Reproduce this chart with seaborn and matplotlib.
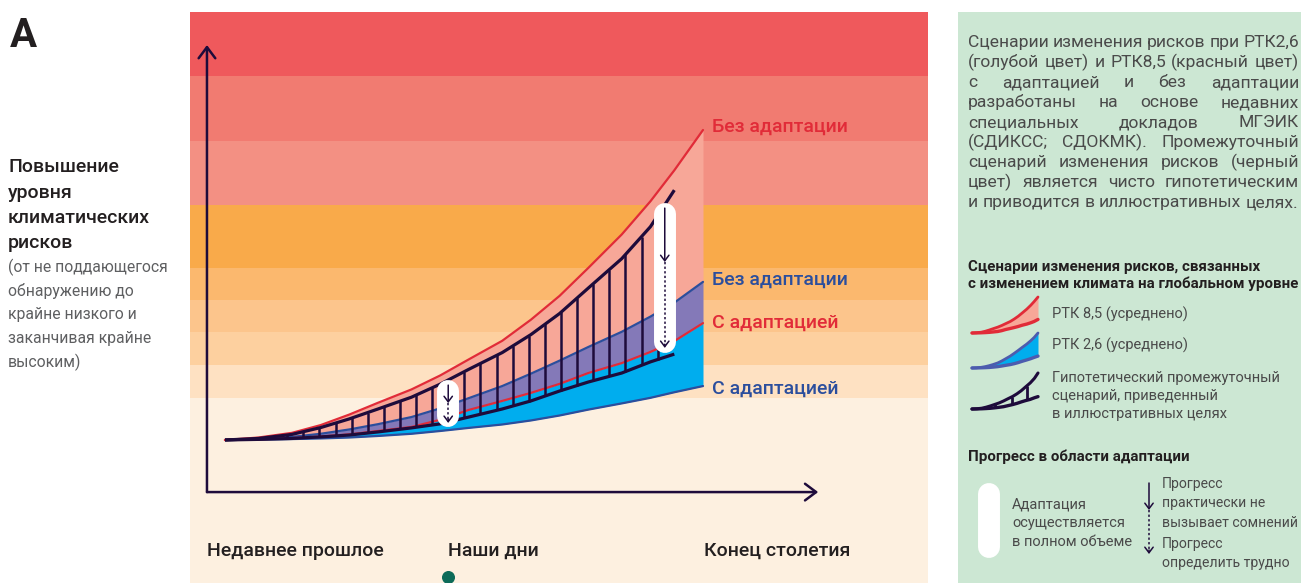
import numpy as np
import pandas as pd
import seaborn as sns
import matplotlib.pyplot as plt
from matplotlib.patches import Rectangle

W, H = 1301, 583

# time: 0 = recent past, 100 = end of century; risk in arbitrary units
t = [0, 7, 14, 20, 26, 32, 39, 45, 51, 58, 64, 70, 76, 83, 89, 94, 100]
rcp85_no_adapt = [0, 0.8, 2.3, 4.8, 8.2, 12.0, 16.3, 20.8, 26.0, 32.0, 38.8, 46.5, 55.5, 66.3, 77.0, 87.0, 100]
rcp85_adapt = [0, 0.2, 0.6, 1.1, 1.8, 2.9, 4.2, 6.5, 9.7, 12.6, 15.2, 18.1, 21.6, 24.8, 28.4, 31.9, 37.7]
rcp26_no_adapt = [0, 0.3, 1.0, 2.0, 3.4, 5.1, 7.4, 10.2, 13.5, 17.4, 21.4, 25.6, 30.0, 34.9, 39.8, 44.3, 51.0]
rcp26_adapt = [0, 0.1, 0.3, 0.5, 0.8, 1.3, 2.0, 2.9, 3.9, 5.0, 6.3, 7.9, 9.8, 11.8, 13.6, 15.4, 17.4]

# hypothetical intermediate scenario (stops a bit before the end)
t_hyp = t[:16]
hyp_upper = [0, 0.5, 1.8, 4.0, 6.8, 10.0, 13.8, 18.0, 22.8, 28.2, 34.0, 40.8, 49.0, 58.5, 68.8, 80.6]
hyp_lower = [0, 0.2, 0.5, 1.0, 1.6, 2.6, 3.9, 5.2, 7.4, 10.0, 12.6, 15.8, 18.7, 21.6, 25.2, 27.7]
hatch_t = np.arange(2.9, 91.0, 3.37)

# risk level bands (undetectable -> very high)
band_edges = [-46.1, 13.5, 24.2, 34.8, 45.2, 55.5, 75.8, 96.5, 117.4, 138.1]
band_colors = ["#FDF0E0", "#FEE1C2", "#FDD09F", "#FCC58C", "#FBB86E",
               "#F9AA4A", "#F39083", "#F17B71", "#EF595C"]

# adaptation progress markers
today_t = 46.7
adapt_t = [46.7, 92.0]
pill_top = [19.4, 76.5]
pill_bot = [4.2, 28.1]
arrow_top = [17.7, 74.8]
arrow_mid = [11.9, 57.4]
arrow_bot = [5.5, 29.7]

end_labels = ["Без адаптации", "Без адаптации", "С адаптацией", "С адаптацией"]
end_label_shift = [1.0, 0.6, 0.0, -1.0]
time_labels = ["Недавнее прошлое", "Наши дни", "Конец столетия"]
time_label_t = [-3.8, today_t, 100.2]

RED, BLUE, DARK = "#E12B38", "#2B4E9D", "#1E0B3B"
SALMON, PURPLE, CYAN = "#F7A798", "#8479B8", "#00ADEE"

sns.set_style("white")
plt.rcParams["font.family"] = ["Roboto", "DejaVu Sans"]

fig = plt.figure(figsize=(W / 100, H / 100), dpi=100)

# main chart axes, placed over the coloured panel
ax = fig.add_axes([190 / W, 0, 738 / W, 571 / H])
ax.set_xlim(-7.32, 147.07)
ax.set_ylim(-46.13, 138.06)
ax.axis("off")
px_per_r = 571 / (138.06 + 46.13)

for lo, hi, c in zip(band_edges[:-1], band_edges[1:], band_colors):
    ax.axhspan(lo, hi, color=c, lw=0, zorder=0)

ax.fill_between(t, rcp26_no_adapt, rcp85_no_adapt, color=SALMON, lw=0, zorder=2)
ax.fill_between(t, rcp85_adapt, rcp26_no_adapt, color=PURPLE, lw=0, zorder=2)
ax.fill_between(t, rcp26_adapt, rcp85_adapt, color=CYAN, lw=0, zorder=2)

for vals, col in [(rcp26_adapt, BLUE), (rcp26_no_adapt, BLUE),
                  (rcp85_adapt, RED), (rcp85_no_adapt, RED)]:
    sns.lineplot(x=t, y=vals, ax=ax, color=col, lw=1.6, sort=False, zorder=3)

ax.vlines(hatch_t, np.interp(hatch_t, t_hyp, hyp_lower), np.interp(hatch_t, t_hyp, hyp_upper),
          color=DARK, lw=1.8, zorder=4)
for vals in [hyp_upper, hyp_lower]:
    sns.lineplot(x=t_hyp, y=vals, ax=ax, color=DARK, lw=2.3, sort=False, zorder=5,
                 solid_capstyle="butt")

# axes arrows
ax.annotate("", xy=(-3.77, 127.4), xytext=(-3.77, -16.8),
            arrowprops=dict(arrowstyle="->,head_length=0.8,head_width=0.6", lw=1.8,
                            color=DARK, shrinkA=0, shrinkB=0))
ax.annotate("", xy=(124.1, -16.8), xytext=(-3.77, -16.8),
            arrowprops=dict(arrowstyle="->,head_length=0.8,head_width=0.6", lw=1.8,
                            color=DARK, shrinkA=0, shrinkB=0))

# adaptation pills with arrows
cap = 11 / px_per_r
head = dict(arrowstyle="->,head_length=0.4,head_width=0.3", lw=1.1, color=DARK,
            shrinkA=0, shrinkB=0)
for x, pt, pb, at, am, ab in zip(adapt_t, pill_top, pill_bot, arrow_top, arrow_mid, arrow_bot):
    ax.plot([x, x], [pb + cap, pt - cap], color="white", lw=15.8,
            solid_capstyle="round", zorder=6)
    ax.annotate("", xy=(x, am), xytext=(x, at), arrowprops=head, zorder=7)
    ax.plot([x, x], [am, ab + 1], color=DARK, lw=1.1, ls=(0, (1.5, 1.5)), zorder=7)
    ax.annotate("", xy=(x, ab), xytext=(x, ab + 1.2), arrowprops=head, zorder=7)

# curve end labels
for lab, vals, dy, col in zip(end_labels, [rcp85_no_adapt, rcp26_no_adapt, rcp85_adapt, rcp26_adapt],
                              end_label_shift, [RED, BLUE, RED, BLUE]):
    ax.text(101.9, vals[-1] + dy, lab, color=col, fontsize=14, fontweight="medium",
            va="center", ha="left")

for lab, x in zip(time_labels, time_label_t):
    ax.text(x, -35.8, lab, color="#231F20", fontsize=14, fontweight="medium",
            va="center", ha="left")
ax.scatter([today_t], [-44.2], s=70, color="#0D6B59", zorder=5, clip_on=False)

# overlay in pixel units for the surrounding text
ov = fig.add_axes([0, 0, 1, 1], zorder=1)
ov.set_xlim(0, W)
ov.set_ylim(H, 0)
ov.axis("off")
ov.add_patch(Rectangle((958, 12), W - 958, H - 12, color="#CCE7D3", lw=0, zorder=0))

ov.text(10, 47, "A", fontsize=29, fontweight="bold", color="#231F20")
for i, s in enumerate(["Повышение", "уровня", "климатических", "рисков"]):
    ov.text(8, 172 + 25.5 * i, s, fontsize=14, fontweight="medium", color="#231F20")
for i, s in enumerate(["(от не поддающегося", "обнаружению до", "крайне низкого и",
                       "заканчивая крайне", "высоким)"]):
    ov.text(8, 272 + 23.7 * i, s, fontsize=11.3, color="#5E5F61")

renderer = fig.canvas.get_renderer()
para = ["Сценарии изменения рисков при РТК2,6",
        "(голубой цвет) и РТК8,5 (красный цвет)",
        "с адаптацией и без адаптации",
        "разработаны на основе недавних",
        "специальных докладов МГЭИК",
        "(СДИКСС; СДОКМК). Промежуточный",
        "сценарий изменения рисков (черный",
        "цвет) является чисто гипотетическим",
        "и приводится в иллюстративных целях."]
para_kw = dict(fontsize=12.6, color="#4A4A4A")
probe = [ov.text(0, 0, s, **para_kw) for s in ["a a", "aa"]]
space = probe[0].get_window_extent(renderer).width - probe[1].get_window_extent(renderer).width
for tx in probe:
    tx.remove()
for i, line in enumerate(para):
    y = 47.3 + 20 * i
    words = line.split()
    texts = [ov.text(968, y, w, **para_kw) for w in words]
    widths = [tx.get_window_extent(renderer).width for tx in texts]
    if i == len(para) - 1:
        gap = space
    else:
        gap = max(0.5 * space, (1299 - 968 - sum(widths)) / (len(words) - 1))
    x = 968
    for tx, w in zip(texts, widths):
        tx.set_x(x)
        x += w + gap

title_kw = dict(fontsize=10.9, fontweight="bold", color="#231F20")
ov.text(968, 270.7, "Сценарии изменения рисков, связанных", **title_kw)
ov.text(968, 288.3, "с изменением климата на глобальном уровне", **title_kw)
ov.text(968, 460.7, "Прогресс в области адаптации", **title_kw)

leg_kw = dict(fontsize=10.5, color="#4A4A4A")
ov.text(1051.7, 318.3, "РТК 8,5 (усреднено)", **leg_kw)
ov.text(1051.7, 350, "РТК 2,6 (усреднено)", **leg_kw)
for i, s in enumerate(["Гипотетический промежуточный", "сценарий, приведенный",
                       "в иллюстративных целях"]):
    ov.text(1051.7, 381.7 + 18.3 * i, s, **leg_kw)
for i, s in enumerate(["Адаптация", "осуществляется", "в полном объеме"]):
    ov.text(1012.3, 508.3 + 18.9 * i, s, **leg_kw)
for s, y in zip(["Прогресс", "практически не", "вызывает сомнений", "Прогресс",
                 "определить трудно"], [488.3, 506.7, 526.7, 548.3, 566.7]):
    ov.text(1162, y, s, fontsize=10.1, color="#4A4A4A")

ov.plot([989, 989], [494, 547], color="white", lw=15.8, solid_capstyle="round")
ov.annotate("", xy=(1149, 510), xytext=(1149, 483), arrowprops=head)
ov.plot([1149, 1149], [510, 550], color=DARK, lw=1.1, ls=(0, (1.5, 1.5)))
ov.annotate("", xy=(1149, 554), xytext=(1149, 550), arrowprops=head)

# legend icons, drawn from the scenario data
def icon(box, xlim, ylim):
    a = fig.add_axes([box[0] / W, 1 - box[3] / H, (box[2] - box[0]) / W, (box[3] - box[1]) / H],
                     zorder=2)
    a.set_xlim(*xlim)
    a.set_ylim(*ylim)
    a.axis("off")
    return a

a1 = icon((972, 297, 1038, 333), (0, 100), (0, 100))
a1.fill_between(t, rcp85_adapt, rcp85_no_adapt, color=SALMON, lw=0)
a1.plot(t, rcp85_no_adapt, color=RED, lw=2, clip_on=False)
a1.plot(t, rcp85_adapt, color=RED, lw=2.4, clip_on=False)

a2 = icon((972, 333, 1038, 368), (0, 100), (0, 51))
a2.fill_between(t, rcp26_adapt, rcp26_no_adapt, color=CYAN, lw=0)
a2.plot(t, rcp26_no_adapt, color="#4C5CAE", lw=2, clip_on=False)
a2.plot(t, rcp26_adapt, color="#4C5CAE", lw=2.4, clip_on=False)

a3 = icon((972, 373, 1038, 409), (0, 94), (0, 80.6))
icon_hatch = [33, 57, 78]
a3.vlines(icon_hatch, np.interp(icon_hatch, t_hyp, hyp_lower), np.interp(icon_hatch, t_hyp, hyp_upper),
          color=DARK, lw=2, clip_on=False)
a3.plot(t_hyp, hyp_upper, color=DARK, lw=2.2, clip_on=False)
a3.plot(t_hyp, hyp_lower, color=DARK, lw=2.4, clip_on=False)

fig.savefig("out.png", dpi=100)
